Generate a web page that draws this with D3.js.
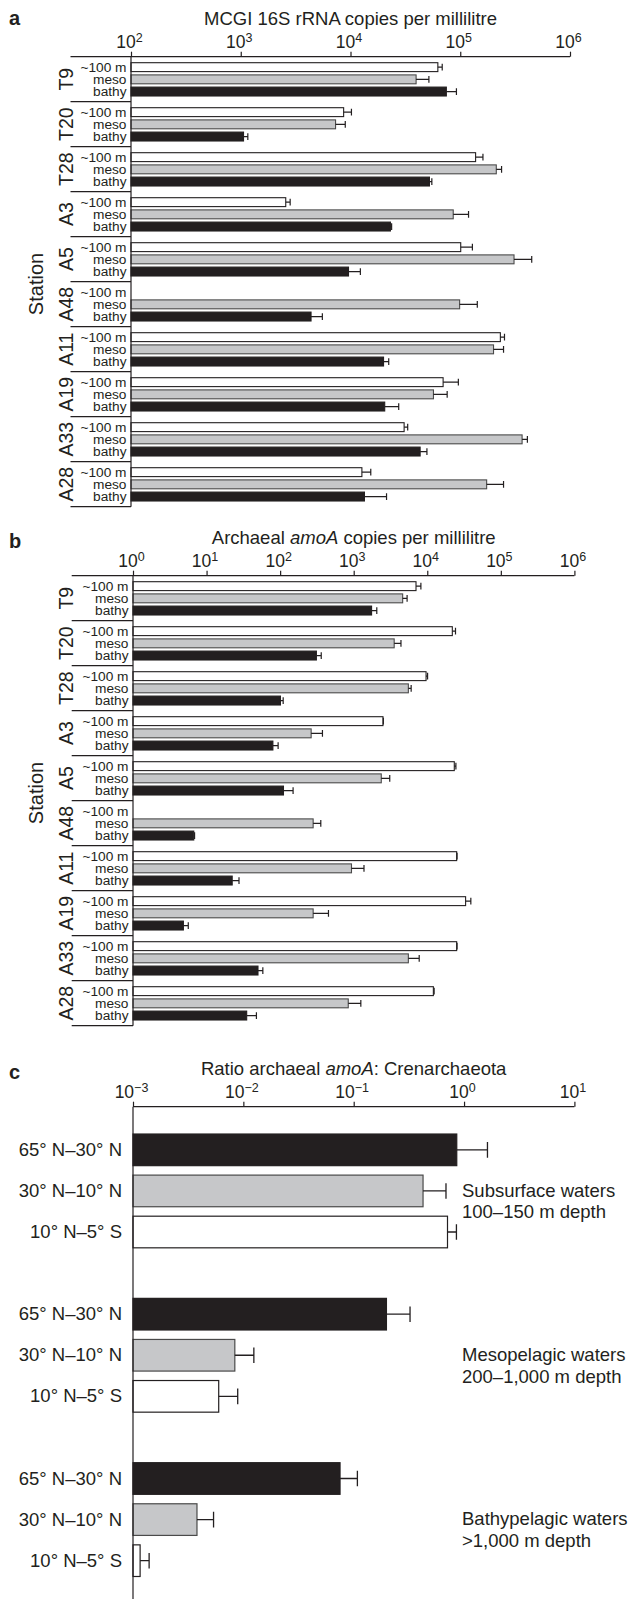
<!DOCTYPE html>
<html>
<head>
<meta charset="utf-8">
<script src="https://cdn.jsdelivr.net/npm/d3@7"></script>
<style>
body { margin: 0; background: #fff; }
svg { font-family: "Liberation Sans", Arial, Helvetica, sans-serif; }
</style>
</head>
<body>
<svg id="chart" width="632" height="1599"></svg>
<script>
// Stations and depth classes (panels a and b)
let stations = ["T9", "T20", "T28", "A3", "A5", "A48", "A11", "A19", "A33", "A28"];
let depthLabels = ["~100 m", "meso", "bathy"];

// Panel a: MCGI 16S rRNA copies per ml (bar value, upper whisker)
let mcgiShallow = [62500, 8660, 138000, 2570, 101000, null, 232000, 69800, 30800, 12700];
let mcgiShallowErr = [68500, 10200, 161000, 2820, 129000, null, 253000, 96100, 33200, 15300];
let mcgiMeso = [39600, 7310, 213000, 86300, 309000, 98700, 201000, 57000, 366000, 174000];
let mcgiMesoErr = [51800, 8960, 238000, 119000, 448000, 143000, 248000, 76000, 409000, 248000];
let mcgiBathy = [74700, 1060, 52400, 23100, 9590, 4370, 20000, 20500, 43100, 13400];
let mcgiBathyErr = [92300, 1160, 55100, 23700, 12300, 5540, 22300, 27500, 49700, 21300];

// Panel b: archaeal amoA copies per ml
let amoaShallow = [7030, 21900, 9630, 2500, 23300, null, 25100, 33200, 25100, 12100];
let amoaShallowErr = [8190, 24200, 10100, 2530, 24500, null, 25400, 39100, 25400, 12400];
let amoaMeso = [4630, 3550, 5530, 264, 2370, 281, 933, 281, 5530, 843];
let amoaMesoErr = [5320, 4390, 6040, 376, 3090, 357, 1380, 454, 7770, 1250];
let amoaBathy = [1750, 311, 101, 79.7, 111, 6.7, 22.3, 4.84, 50, 35.1];
let amoaBathyErr = [2060, 362, 110, 93.9, 150, 6.87, 27.6, 5.64, 58.2, 47.6];

// Panel c: ratio archaeal amoA : Crenarchaeota
let latitudes = ["65° N–30° N", "30° N–10° N", "10° N–5° S"];
let waterNames = ["Subsurface waters", "Mesopelagic waters", "Bathypelagic waters"];
let waterDepths = ["100–150 m depth", "200–1,000 m depth", ">1,000 m depth"];
let ratioSubsurface = [0.859, 0.425, 0.708];
let ratioSubsurfaceErr = [1.63, 0.686, 0.853];
let ratioMeso = [0.198, 0.00837, 0.00598];
let ratioMesoErr = [0.324, 0.01245, 0.00889];
let ratioBathy = [0.0752, 0.0038, 0.00116];
let ratioBathyErr = [0.108, 0.00537, 0.0014];

// Axis ticks
let ticksA = [1e2, 1e3, 1e4, 1e5, 1e6];
let expsA = ["2", "3", "4", "5", "6"];
let ticksB = [1e0, 1e1, 1e2, 1e3, 1e4, 1e5, 1e6];
let expsB = ["0", "1", "2", "3", "4", "5", "6"];
let ticksC = [1e-3, 1e-2, 1e-1, 1e0, 1e1];
let expsC = ["\u22123", "\u22122", "\u22121", "0", "1"];

let ink = "#231f20";
let depthFill = ["#ffffff", "#c6c7c9", "#231f20"];
let latFill = ["#231f20", "#c6c7c9", "#ffffff"];

let svg = d3.select("#chart");

function drawTopAxis(g, x, y, ticks, exps, lineStart) {
    g.append("line")
        .attr("x1", lineStart)
        .attr("x2", x.range()[1])
        .attr("y1", y)
        .attr("y2", y)
        .attr("stroke", ink)
        .attr("stroke-width", 1.2);

    let axis = d3.axisTop(x)
        .tickValues(ticks)
        .tickSize(5)
        .tickSizeOuter(0)
        .tickPadding(3.5)
        .tickFormat("");

    let ag = g.append("g")
        .attr("transform", `translate(0,${y})`)
        .call(axis)
        .attr("font-size", null)
        .attr("font-family", null)
        .attr("color", ink);
    ag.select(".domain").remove();
    ag.selectAll(".tick line").attr("stroke-width", 1.2);
    ag.selectAll(".tick text").each(function (d, i) {
        let t = d3.select(this).attr("dx", -2).style("font-size", "17.5px");
        t.append("tspan").text("10");
        t.append("tspan").attr("dy", -6.5).style("font-size", "12.5px").text(exps[i]);
    });
}

function drawTitle(g, x, y, parts) {
    let t = g.append("text")
        .attr("x", x)
        .attr("y", y)
        .attr("text-anchor", "middle")
        .attr("fill", ink)
        .style("font-size", "18.5px");
    parts.forEach((p) => {
        t.append("tspan").style("font-style", p.italic ? "italic" : "normal").text(p.text);
    });
}

function drawLetter(g, y, letter) {
    g.append("text")
        .attr("x", 9)
        .attr("y", y)
        .attr("fill", ink)
        .style("font-size", "20px")
        .style("font-weight", "bold")
        .text(letter);
}

function drawStationPanel(cfg) {
    let g = svg.append("g");
    let x = d3.scaleLog().domain(cfg.domain).range([cfg.x0, cfg.x1]);
    let yS = d3.scaleBand().domain(stations).range([cfg.top, cfg.top + 450]);
    let yD = d3.scaleBand().domain(depthLabels).range([6, 39.3]).paddingInner(0.27);

    let rows = [];
    stations.forEach((s, i) => {
        depthLabels.forEach((dl, j) => {
            rows.push({ s: s, dl: dl, j: j, v: cfg.values[j][i], e: cfg.errors[j][i] });
        });
    });
    let withBars = rows.filter((d) => d.v != null);
    let yc = (d) => yS(d.s) + yD(d.dl) + yD.bandwidth() / 2;

    g.selectAll(".bar")
        .data(withBars)
        .join("rect")
        .attr("x", cfg.x0)
        .attr("y", (d) => yS(d.s) + yD(d.dl))
        .attr("width", (d) => x(d.v) - cfg.x0)
        .attr("height", yD.bandwidth())
        .attr("fill", (d) => depthFill[d.j])
        .attr("stroke", (d) => (d.j == 1 ? "#4a4a4a" : ink))
        .attr("stroke-width", 1.1);

    // error bars
    g.selectAll(".err")
        .data(withBars)
        .join("path")
        .attr("d", (d) => {
            let x1 = x(d.v), x2 = x(d.e), y = yc(d);
            return `M${x1},${y}H${x2}M${x2},${y - 3.4}V${y + 3.4}`;
        })
        .attr("fill", "none")
        .attr("stroke", ink)
        .attr("stroke-width", 1.2);

    // depth labels
    g.selectAll(".dlab")
        .data(rows)
        .join("text")
        .attr("x", cfg.x0 - 4.5)
        .attr("y", (d) => yc(d) + 4.8)
        .attr("text-anchor", "end")
        .attr("fill", ink)
        .style("font-size", "13.7px")
        .text((d) => d.dl);

    // station separators
    g.selectAll(".sep")
        .data(stations)
        .join("line")
        .attr("x1", cfg.lineStart)
        .attr("x2", cfg.x0)
        .attr("y1", (s) => yS(s) + yS.bandwidth())
        .attr("y2", (s) => yS(s) + yS.bandwidth())
        .attr("stroke", ink)
        .attr("stroke-width", 1.2);

    // station names
    g.selectAll(".slab")
        .data(stations)
        .join("text")
        .attr("transform", (s) => `translate(73,${yS(s) + yS.bandwidth() / 2}) rotate(-90)`)
        .attr("text-anchor", "middle")
        .attr("fill", ink)
        .style("font-size", "19.5px")
        .text((s) => s);

    g.append("text")
        .attr("transform", `translate(43,${cfg.stationY}) rotate(-90)`)
        .attr("text-anchor", "middle")
        .attr("fill", ink)
        .style("font-size", "20px")
        .text("Station");

    // vertical axis
    g.append("line")
        .attr("x1", cfg.x0)
        .attr("x2", cfg.x0)
        .attr("y1", cfg.top)
        .attr("y2", cfg.top + 450)
        .attr("stroke", ink)
        .attr("stroke-width", 1.2);

    drawTopAxis(g, x, cfg.top, cfg.ticks, cfg.exps, cfg.lineStart);
    drawTitle(g, (cfg.x0 + cfg.x1) / 2, cfg.top - 31.8, cfg.title);
    drawLetter(g, cfg.letterY, cfg.letter);
}

drawStationPanel({
    top: 56.7,
    x0: 131,
    x1: 570,
    lineStart: 70.5,
    domain: [1e2, 1e6],
    ticks: ticksA,
    exps: expsA,
    values: [mcgiShallow, mcgiMeso, mcgiBathy],
    errors: [mcgiShallowErr, mcgiMesoErr, mcgiBathyErr],
    title: [{ text: "MCGI 16S rRNA copies per millilitre" }],
    letter: "a",
    letterY: 25,
    stationY: 284,
});

drawStationPanel({
    top: 575.7,
    x0: 133,
    x1: 574.4,
    lineStart: 71.7,
    domain: [1e0, 1e6],
    ticks: ticksB,
    exps: expsB,
    values: [amoaShallow, amoaMeso, amoaBathy],
    errors: [amoaShallowErr, amoaMesoErr, amoaBathyErr],
    title: [{ text: "Archaeal " }, { text: "amoA", italic: true }, { text: " copies per millilitre" }],
    letter: "b",
    letterY: 548,
    stationY: 793,
});

// Panel c
function drawRatioPanel() {
    let g = svg.append("g");
    let top = 1106.7;
    let x0 = 133, x1 = 574.4;
    let x = d3.scaleLog().domain([1e-3, 1e1]).range([x0, x1]);
    let y = d3.scaleBand().domain(d3.range(12)).range([1129.3, 1622.3]).paddingInner(0.23).paddingOuter(0.115);

    let vals = [ratioSubsurface, ratioMeso, ratioBathy];
    let errs = [ratioSubsurfaceErr, ratioMesoErr, ratioBathyErr];
    let rows = [];
    waterNames.forEach((w, gi) => {
        latitudes.forEach((lat, j) => {
            rows.push({ slot: gi * 4 + j, j: j, lat: lat, v: vals[gi][j], e: errs[gi][j] });
        });
    });
    let yc = (d) => y(d.slot) + y.bandwidth() / 2;

    g.selectAll(".bar")
        .data(rows)
        .join("rect")
        .attr("x", x0)
        .attr("y", (d) => y(d.slot))
        .attr("width", (d) => x(d.v) - x0)
        .attr("height", y.bandwidth())
        .attr("fill", (d) => latFill[d.j])
        .attr("stroke", (d) => (d.j == 1 ? "#4a4a4a" : ink))
        .attr("stroke-width", 1.2);

    g.selectAll(".err")
        .data(rows)
        .join("path")
        .attr("d", (d) => {
            let xa = x(d.v), xb = x(d.e), yy = yc(d);
            return `M${xa},${yy}H${xb}M${xb},${yy - 7.8}V${yy + 7.8}`;
        })
        .attr("fill", "none")
        .attr("stroke", ink)
        .attr("stroke-width", 1.3);

    g.selectAll(".lab")
        .data(rows)
        .join("text")
        .attr("x", 122)
        .attr("y", (d) => yc(d) + 6)
        .attr("text-anchor", "end")
        .attr("fill", ink)
        .style("font-size", "18.5px")
        .text((d) => d.lat);

    // water mass notes, next to the middle bar of each group
    waterNames.forEach((w, gi) => {
        let cy = y(gi * 4 + 1) + y.bandwidth() / 2;
        let t = g.append("text").attr("fill", ink).style("font-size", "18.5px");
        t.append("tspan").attr("x", 462).attr("y", cy + 5.6).text(w);
        t.append("tspan").attr("x", 462).attr("y", cy + 27.4).text(waterDepths[gi]);
    });

    g.append("line")
        .attr("x1", x0)
        .attr("x2", x0)
        .attr("y1", top)
        .attr("y2", 1599)
        .attr("stroke", ink)
        .attr("stroke-width", 1.2);

    drawTopAxis(g, x, top, ticksC, expsC, x0);
    drawTitle(g, (x0 + x1) / 2, top - 31.8, [
        { text: "Ratio archaeal " },
        { text: "amoA", italic: true },
        { text: ": Crenarchaeota" },
    ]);
    drawLetter(g, 1079, "c");
}

drawRatioPanel();
</script>
</body>
</html>
